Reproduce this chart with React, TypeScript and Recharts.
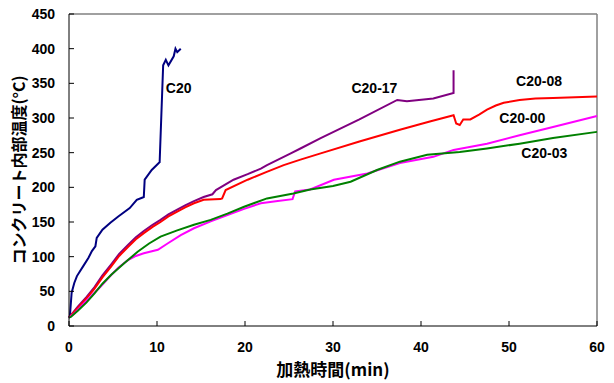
import React from 'react';
import { LineChart, Line, XAxis, YAxis, ReferenceLine, ReferenceDot } from 'recharts';

// heating time (min) / internal concrete temperature (°C) per specimen
const C20_T = [0, 0.1, 0.3, 0.6, 0.9, 1.6, 2.2, 2.6, 3.0, 3.15, 3.8, 4.7, 5.6, 6.9, 7.7, 8.3, 8.5, 8.6, 9.4, 10.2, 10.3, 10.7, 11.0, 11.3, 11.9, 12.1, 12.3, 12.7];
const C20_V = [12, 14, 48, 62, 72, 86, 98, 108, 115, 127, 139, 149, 158, 170, 182, 185, 186, 211, 225, 235, 236, 376, 384, 376, 389, 400, 395, 400];

const C20_17_T = [0, 1, 2, 2.9, 3.8, 4.8, 5.7, 6.7, 7.6, 8.5, 9.5, 10.4, 11.3, 12.3, 13.2, 14.2, 15.3, 16.3, 16.7, 18.7, 20.3, 21.8, 22.5, 25.2, 26.3, 28.6, 33, 37.3, 38.4, 41.4, 43.7, 43.7];
const C20_17_V = [12, 28, 42, 56, 73, 89, 104, 117, 128, 137, 146, 153, 161, 168, 174, 180, 186, 190, 196, 211, 219, 227, 232, 249, 256, 271, 298, 326, 324, 328, 336, 369];

const C20_08_T = [0, 1, 2, 2.9, 3.8, 4.8, 5.7, 6.7, 7.6, 8.5, 9.5, 10.4, 11.3, 12.3, 13.2, 14.2, 15.3, 17.2, 17.4, 17.8, 20.3, 22.4, 24.4, 26.3, 28.6, 33, 37.6, 41, 43.7, 44.0, 44.4, 44.8, 45.6, 46.6, 47.5, 48.5, 49.4, 51.2, 53, 55, 60];
const C20_08_V = [12, 26, 40, 54, 70, 86, 101, 114, 125, 134, 143, 150, 158, 165, 171, 177, 182, 183, 184, 196, 211, 222, 232, 240, 249, 266, 283, 295, 304, 292, 290, 298, 298, 305, 312, 318, 322, 326, 328, 329, 331];

const C20_00_T = [0, 0.6, 1.5, 2.5, 3.6, 4.6, 5.6, 6.7, 7.6, 8.5, 10.1, 11.2, 12.7, 14.2, 16.1, 18, 19.9, 21.8, 23.5, 25.4, 25.7, 27.4, 30.1, 33.9, 37.6, 41.4, 43.7, 47.5, 51.2, 55, 60];
const C20_00_V = [12, 18, 30, 43, 57, 71, 84, 95, 101, 105, 110, 119, 131, 141, 151, 160, 169, 177, 180, 183, 194, 197, 211, 220, 235, 244, 254, 263, 275, 287, 303];

const C20_03_T = [0, 0.2, 1.0, 2.0, 2.9, 3.8, 4.8, 6.3, 7.8, 9.1, 10.4, 12.3, 14.2, 16.1, 18, 19.9, 22.5, 25.5, 27.4, 30, 32, 35, 37.6, 40.7, 44.4, 47.5, 51.2, 55, 60];
const C20_03_V = [12, 13, 22, 34, 47, 61, 74, 91, 107, 119, 129, 138, 146, 153, 162, 172, 184, 191, 197, 202, 208, 225, 237, 247, 251, 256, 263, 271, 280];

const X_TICKS = [0, 10, 20, 30, 40, 50, 60];
const Y_TICKS = [0, 50, 100, 150, 200, 250, 300, 350, 400, 450];

const toPoints = (t: number[], v: number[]) => t.map((x, i) => ({ t: x, v: v[i] }));

const SERIES = [
  { name: 'C20', color: '#000080', data: toPoints(C20_T, C20_V), label: { t: 11.0, v: 343 } },
  { name: 'C20-17', color: '#800080', data: toPoints(C20_17_T, C20_17_V), label: { t: 32.1, v: 343 } },
  { name: 'C20-08', color: '#ff0000', data: toPoints(C20_08_T, C20_08_V), label: { t: 50.8, v: 353 } },
  { name: 'C20-00', color: '#ff00ff', data: toPoints(C20_00_T, C20_00_V), label: { t: 48.9, v: 300 } },
  { name: 'C20-03', color: '#008000', data: toPoints(C20_03_T, C20_03_V), label: { t: 51.4, v: 250 } },
];

const TICK_FONT = { fontFamily: '"Liberation Sans", Arial, sans-serif', fontSize: 14, fontWeight: 'bold', fill: '#000' };
const TITLE_FONT = '"Noto Sans CJK JP", sans-serif';

export default function App() {
  return (
    <div style={{ position: 'absolute', left: 0, top: 0, background: '#fff' }}>
      <LineChart width={614} height={383} margin={{ top: 14, right: 17, bottom: 0, left: 9 }}>
        <XAxis
          dataKey="t" type="number" domain={[0, 60]} ticks={X_TICKS} interval={0}
          allowDuplicatedCategory={false}
          height={57} stroke="#000" tickSize={-5} tickMargin={21} tick={TICK_FONT}
          label={{
            content: ({ viewBox }: any) => (
              <text x={viewBox.x + viewBox.width / 2} y={viewBox.y + 50} textAnchor="middle"
                fontFamily={TITLE_FONT} fontWeight="bold" fontSize={17} fill="#000">加熱時間(min)</text>
            ),
          }}
        />
        <YAxis
          type="number" domain={[0, 450]} ticks={Y_TICKS} interval={0}
          width={60} stroke="#000" tickSize={-5} tickMargin={19} tick={TICK_FONT}
          label={{
            content: ({ viewBox }: any) => {
              const cx = 18;
              const cy = viewBox.y + viewBox.height / 2;
              return (
                <text x={cx} y={cy} transform={`rotate(-90 ${cx} ${cy})`} textAnchor="middle"
                  dominantBaseline="central" fontFamily={TITLE_FONT} fontWeight="bold" fontSize={16} fill="#000">
                  コンクリート内部温度(°C)
                </text>
              );
            },
          }}
        />
        {/* grey frame on the top and right edges */}
        <ReferenceLine y={450} stroke="#808080" strokeWidth={1.5} />
        <ReferenceLine x={60} stroke="#808080" strokeWidth={1.5} />
        {SERIES.map(s => (
          <Line key={s.name} data={s.data} dataKey="v" type="linear" stroke={s.color}
            strokeWidth={2} dot={false} isAnimationActive={false} />
        ))}
        {SERIES.map(s => (
          <ReferenceDot key={`lbl-${s.name}`} x={s.label.t} y={s.label.v} r={0} stroke="none"
            label={{ value: s.name, position: 'right', offset: 0, ...TICK_FONT }} />
        ))}
      </LineChart>
    </div>
  );
}
